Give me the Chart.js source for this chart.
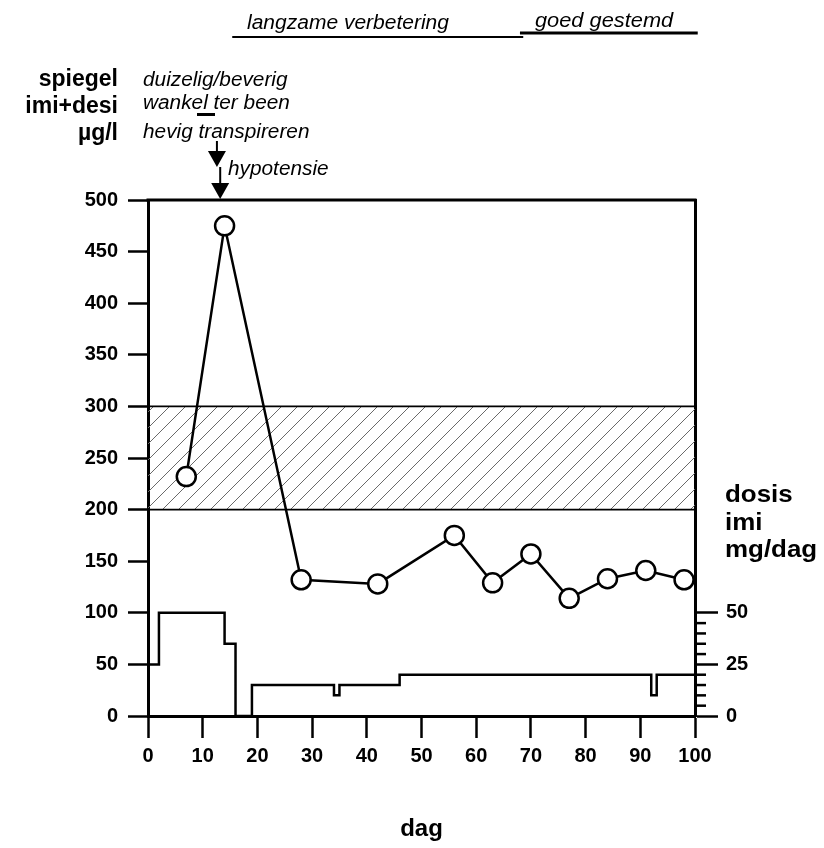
<!DOCTYPE html>
<html><head><meta charset="utf-8">
<script src="https://cdn.jsdelivr.net/npm/chart.js@4.4.1/dist/chart.umd.min.js"></script>
<style>html,body{margin:0;padding:0;background:#fff}#wrap{width:824px;height:848px;position:relative}</style>
</head><body><div id="wrap"><canvas id="c" width="824" height="848"></canvas></div>
<script>
// ---- data ----
const sampleDays = [7, 14, 28, 42, 56, 63, 70, 77, 84, 91, 98];
const levelValues = [232, 475, 132, 128, 175, 129, 157, 114, 133, 141, 132];
const doseDays = [0, 2, 14, 16, 19, 34, 35, 46, 92, 93, 100];
const doseValues = [25, 50, 35, 0, 15, 10, 15, 20, 10, 20, 20];
const bandDays = [0, 100];
const bandLow = [200, 200];
const bandHigh = [300, 300];
const doseTicksMajor = [0, 25, 50];
const doseTicksMinor = [5, 10, 15, 20, 30, 35, 40, 45];
const leftTitle = ['spiegel', 'imi+desi', 'µg/l'];
const rightTitle = ['dosis', 'imi', 'mg/dag'];
const symptoms = ['duizelig/beverig', 'wankel ter been', 'hevig transpireren'];
const lateSymptom = 'hypotensie';
const phases = [
  {label: 'langzame verbetering', from: 15.4, to: 68.6},
  {label: 'goed gestemd', from: 68.0, to: 100.5}
];
const symptomDays = [12.6, 13.2];

const FONT = '"Liberation Sans", Arial, Helvetica, sans-serif';

// hatch pattern (diagonal lines) for the therapeutic band
const N = 16;
const pc = document.createElement('canvas');
pc.width = N; pc.height = N;
const pg = pc.getContext('2d');
pg.strokeStyle = '#6a6a6a'; pg.lineWidth = 1;
for (let o = -N; o <= N; o += N) { pg.beginPath(); pg.moveTo(o, N); pg.lineTo(o + N, 0); pg.stroke(); }
const hatch = pg.createPattern(pc, 'repeat');

function txt(ctx, s, x, y, sx, align) {
  ctx.save(); ctx.translate(x, y); ctx.scale(sx, 1); ctx.textAlign = align; ctx.fillText(s, 0, 0); ctx.restore();
}

const decor = {
  id: 'decor',
  afterDraw(chart) {
    const {ctx, chartArea: a, scales} = chart;
    const xs = scales.x, y2 = scales.y2;
    ctx.save();
    // top frame line
    ctx.strokeStyle = '#000'; ctx.lineWidth = 3;
    ctx.beginPath(); ctx.moveTo(a.left - 1.5, a.top); ctx.lineTo(a.right + 1.5, a.top); ctx.stroke();
    // minor ticks on dose axis
    ctx.lineWidth = 2.5;
    doseTicksMinor.forEach(v => {
      const yy = y2.getPixelForValue(v);
      ctx.beginPath(); ctx.moveTo(a.right, yy); ctx.lineTo(a.right + 11, yy); ctx.stroke();
    });
    ctx.fillStyle = '#000'; ctx.textBaseline = 'alphabetic';
    // left title
    ctx.font = 'bold 23px ' + FONT;
    [86, 113, 140].forEach((yy, i) => txt(ctx, leftTitle[i], 118, yy, 1, 'right'));
    // right title
    ctx.font = 'bold 24px ' + FONT;
    [502, 530, 557].forEach((yy, i) => txt(ctx, rightTitle[i], 725, yy, 1.08, 'left'));
    // symptoms
    ctx.font = 'italic 20px ' + FONT;
    [86, 109, 138].forEach((yy, i) => txt(ctx, symptoms[i], 143, yy, 1.04, 'left'));
    txt(ctx, lateSymptom, 228, 175, 1.04, 'left');
    // small bar under "wankel ter"
    ctx.fillRect(197, 113, 18, 3);
    // arrows
    const ax1 = xs.getPixelForValue(symptomDays[0]);
    const ax2 = xs.getPixelForValue(symptomDays[1]);
    ctx.lineWidth = 2;
    ctx.beginPath(); ctx.moveTo(ax1, 141); ctx.lineTo(ax1, 152); ctx.stroke();
    ctx.beginPath(); ctx.moveTo(ax1 - 9, 151); ctx.lineTo(ax1 + 9, 151); ctx.lineTo(ax1, 167); ctx.closePath(); ctx.fill();
    ctx.beginPath(); ctx.moveTo(ax2, 167); ctx.lineTo(ax2, 184); ctx.stroke();
    ctx.beginPath(); ctx.moveTo(ax2 - 9, 183); ctx.lineTo(ax2 + 9, 183); ctx.lineTo(ax2, 199); ctx.closePath(); ctx.fill();
    // phases
    const p0a = xs.getPixelForValue(phases[0].from), p0b = xs.getPixelForValue(phases[0].to);
    const p1a = xs.getPixelForValue(phases[1].from), p1b = xs.getPixelForValue(phases[1].to);
    txt(ctx, phases[0].label, 247, 29, 1.05, 'left');
    txt(ctx, phases[1].label, 535, 27, 1.09, 'left');
    ctx.lineWidth = 2;
    ctx.beginPath(); ctx.moveTo(p0a, 37); ctx.lineTo(p0b, 37); ctx.stroke();
    ctx.lineWidth = 3;
    ctx.beginPath(); ctx.moveTo(p1a, 33); ctx.lineTo(p1b, 33); ctx.stroke();
    ctx.restore();
  }
};

const tickFont = {family: FONT, size: 20, weight: 'bold'};

new Chart(document.getElementById('c'), {
  type: 'line',
  data: {
    datasets: [
      {
        label: 'spiegel',
        data: sampleDays.map((d, i) => ({x: d, y: levelValues[i]})),
        yAxisID: 'y', borderColor: '#000', borderWidth: 2.5,
        pointRadius: 9.5, pointBackgroundColor: '#fff', pointBorderColor: '#000', pointBorderWidth: 2.5,
        tension: 0, fill: false
      },
      {
        label: 'dosis',
        data: doseDays.map((d, i) => ({x: d, y: doseValues[i]})),
        yAxisID: 'y2', borderColor: '#000', borderWidth: 2.5, stepped: 'before',
        pointRadius: 0, fill: false
      },
      {
        label: 'band laag',
        data: bandDays.map((d, i) => ({x: d, y: bandLow[i]})),
        yAxisID: 'y', borderColor: '#000', borderWidth: 1.8, pointRadius: 0, fill: false
      },
      {
        label: 'band hoog',
        data: bandDays.map((d, i) => ({x: d, y: bandHigh[i]})),
        yAxisID: 'y', borderColor: '#000', borderWidth: 1.8, pointRadius: 0,
        fill: '-1', backgroundColor: hatch
      }
    ]
  },
  options: {
    responsive: false, animation: false, devicePixelRatio: 1,
    layout: {padding: {top: 200, left: 0, right: 0, bottom: 0}},
    plugins: {legend: {display: false}, tooltip: {enabled: false}},
    scales: {
      x: {
        type: 'linear', position: 'bottom', min: 0, max: 100,
        ticks: {stepSize: 10, font: tickFont, color: '#000', padding: 6, maxRotation: 0, autoSkip: false},
        grid: {drawOnChartArea: false, tickLength: 22, tickWidth: 2.5, tickColor: '#000'},
        border: {color: '#000', width: 3},
        title: {display: true, text: 'dag', font: {family: FONT, size: 24, weight: 'bold'}, color: '#000', padding: {top: 0, bottom: 4}},
        afterFit(s) { s.height = 132; }
      },
      y: {
        position: 'left', min: 0, max: 500,
        ticks: {stepSize: 50, font: tickFont, color: '#000', padding: 10},
        grid: {drawOnChartArea: false, tickLength: 20, tickWidth: 2.5, tickColor: '#000'},
        border: {color: '#000', width: 3},
        afterFit(s) { s.width = 148; }
      },
      y2: {
        position: 'right', min: 0, max: 250,
        afterBuildTicks(s) { s.ticks = doseTicksMajor.map(v => ({value: v})); },
        ticks: {font: tickFont, color: '#000', padding: 8},
        grid: {drawOnChartArea: false, tickLength: 23, tickWidth: 2.5, tickColor: '#000'},
        border: {color: '#000', width: 3},
        afterFit(s) { s.width = 129; }
      }
    }
  },
  plugins: [decor]
});
</script>
</body></html>
